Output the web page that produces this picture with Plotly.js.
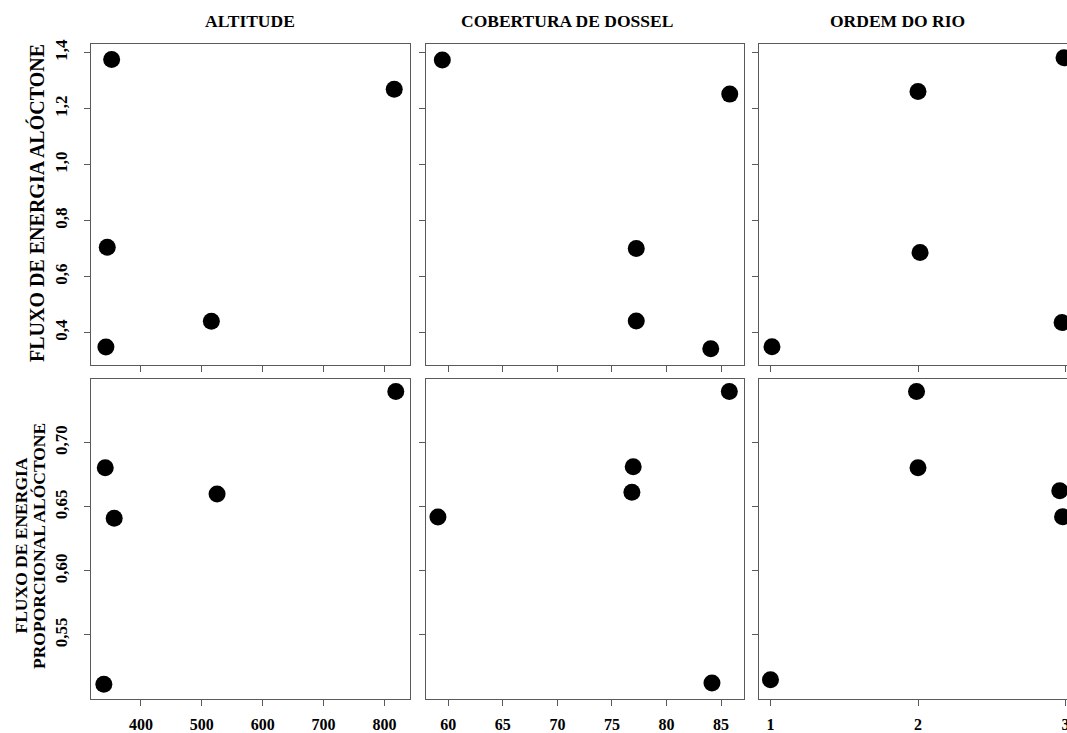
<!DOCTYPE html>
<html>
<head>
<meta charset="utf-8">
<script src="https://cdn.plot.ly/plotly-3.0.1.min.js"></script>
<style>
html,body{margin:0;padding:0;overflow:hidden;background:#fff;}
#chart{width:1077px;height:733px;}
</style>
</head>
<body>
<div id="chart"></div>
<script>
// ---- data ----
const columnTitles = ["ALTITUDE", "COBERTURA DE DOSSEL", "ORDEM DO RIO"];

// Row 1: FLUXO DE ENERGIA ALÓCTONE
const altitudeRow1 = [351.8, 816.0, 344.6, 515.6, 342.4];
const fluxoAltRow1 = [1.376, 1.269, 0.705, 0.441, 0.349];
const dosselRow1   = [59.45, 85.8, 77.23, 77.23, 84.06];
const fluxoDosRow1 = [1.374, 1.252, 0.701, 0.442, 0.343];
const ordemRow1    = [2.99, 2.0, 2.014, 2.977, 1.01];
const fluxoOrdRow1 = [1.382, 1.261, 0.686, 0.436, 0.350];

// Row 2: FLUXO DE ENERGIA PROPORCIONAL ALÓCTONE
const altitudeRow2 = [818.6, 341.3, 525.0, 356.0, 339.0];
const propAltRow2  = [0.740, 0.6805, 0.660, 0.641, 0.5115];
const dosselRow2   = [85.76, 76.95, 76.83, 59.05, 84.17];
const propDosRow2  = [0.740, 0.6813, 0.6613, 0.642, 0.5126];
const ordemRow2    = [1.99, 2.0, 2.961, 2.98, 1.0];
const propOrdRow2  = [0.740, 0.6805, 0.6626, 0.6423, 0.515];

// tick values / labels
const altTicks = [400, 500, 600, 700, 800];
const altTickText = ["400", "500", "600", "700", "800"];
const dosTicks = [60, 65, 70, 75, 80, 85];
const dosTickText = ["60", "65", "70", "75", "80", "85"];
const ordTicks = [1, 2, 3];
const ordTickText = ["1", "2", "3"];
const row1Ticks = [0.4, 0.6, 0.8, 1.0, 1.2, 1.4];
const row1TickText = ["0,4", "0,6", "0,8", "1,0", "1,2", "1,4"];
const row2Ticks = [0.55, 0.60, 0.65, 0.70];
const row2TickText = ["0,55", "0,60", "0,65", "0,70"];

// ---- layout geometry ----
const W = 1077, H = 733;
const px = v => v / W;
const py = v => 1 - v / H;
const colDom = [[px(91), px(409.5)], [px(425.5), px(743.5)], [px(759), 1.0]];
const rowDom = [[py(364.5), py(44)], [py(699.3), py(379)]];
const xRanges = [[317.9, 841.1], [57.91, 87.06], [0.922, 3.078]];
const yRanges = [[0.2864, 1.431], [0.4998, 0.7497]];
const xTickVals = [altTicks, dosTicks, ordTicks];
const xTickTexts = [altTickText, dosTickText, ordTickText];
const yTickVals = [row1Ticks, row2Ticks];
const yTickTexts = [row1TickText, row2TickText];

const serif = "Liberation Serif, Times New Roman, serif";
const lineCol = "#5a5a5a";

const xs = [[altitudeRow1, dosselRow1, ordemRow1], [altitudeRow2, dosselRow2, ordemRow2]];
const ys = [[fluxoAltRow1, fluxoDosRow1, fluxoOrdRow1], [propAltRow2, propDosRow2, propOrdRow2]];

const traces = [];
const layout = {
  width: W, height: H,
  margin: {l: 0, r: 0, t: 0, b: 0},
  paper_bgcolor: "#fff", plot_bgcolor: "#fff",
  showlegend: false,
  annotations: []
};

for (let r = 0; r < 2; r++) {
  for (let c = 0; c < 3; c++) {
    const idx = r * 3 + c + 1;
    const xa = idx === 1 ? "x" : "x" + idx;
    const ya = idx === 1 ? "y" : "y" + idx;
    traces.push({
      type: "scatter", mode: "markers",
      x: xs[r][c], y: ys[r][c],
      xaxis: xa, yaxis: ya,
      marker: {size: 17, color: "#000", line: {width: 0}},
      hoverinfo: "x+y"
    });
    const common = {
      showline: true, mirror: true, linecolor: lineCol, linewidth: 1,
      showgrid: false, zeroline: false,
      ticks: "outside", ticklen: 6, tickcolor: lineCol, tickwidth: 1,
      fixedrange: true
    };
    layout["xaxis" + (idx === 1 ? "" : idx)] = Object.assign({}, common, {
      domain: colDom[c], range: xRanges[c], anchor: ya,
      tickmode: "array", tickvals: xTickVals[c], ticktext: xTickTexts[c],
      tickfont: {family: serif, size: 16, color: "#000", weight: "bold"},
      showticklabels: r === 1, ticklabelstandoff: 4
    });
    layout["yaxis" + (idx === 1 ? "" : idx)] = Object.assign({}, common, {
      domain: rowDom[r], range: yRanges[r], anchor: xa,
      tickmode: "array", tickvals: yTickVals[r], ticktext: yTickTexts[r],
      tickfont: {family: serif, size: 17, color: "#000", weight: "bold"},
      showticklabels: c === 0, tickangle: -90, ticklabelstandoff: 10
    });
  }
}

// column titles
const titleX = [249.5, 566.8, 897.8];
columnTitles.forEach((t, i) => {
  layout.annotations.push({
    text: t, xref: "paper", yref: "paper",
    x: px(titleX[i]), y: py(21), xanchor: "center", yanchor: "middle",
    showarrow: false,
    font: {family: serif, size: 17.5, color: "#000", weight: "bold"}
  });
});

// row titles
layout.annotations.push({
  text: "FLUXO DE ENERGIA ALÓCTONE", xref: "paper", yref: "paper",
  x: px(36), y: py(203), xanchor: "center", yanchor: "middle",
  textangle: -90, showarrow: false,
  font: {family: serif, size: 20, color: "#000", weight: "bold"}
});
layout.annotations.push({
  text: "FLUXO DE ENERGIA", xref: "paper", yref: "paper",
  x: px(20.5), y: py(546), xanchor: "center", yanchor: "middle",
  textangle: -90, showarrow: false,
  font: {family: serif, size: 17.5, color: "#000", weight: "bold"}
});
layout.annotations.push({
  text: "PROPORCIONAL ALÓCTONE", xref: "paper", yref: "paper",
  x: px(39), y: py(546), xanchor: "center", yanchor: "middle",
  textangle: -90, showarrow: false,
  font: {family: serif, size: 17.5, color: "#000", weight: "bold"}
});

Plotly.newPlot("chart", traces, layout, {displayModeBar: false, staticPlot: true});
</script>
</body>
</html>
